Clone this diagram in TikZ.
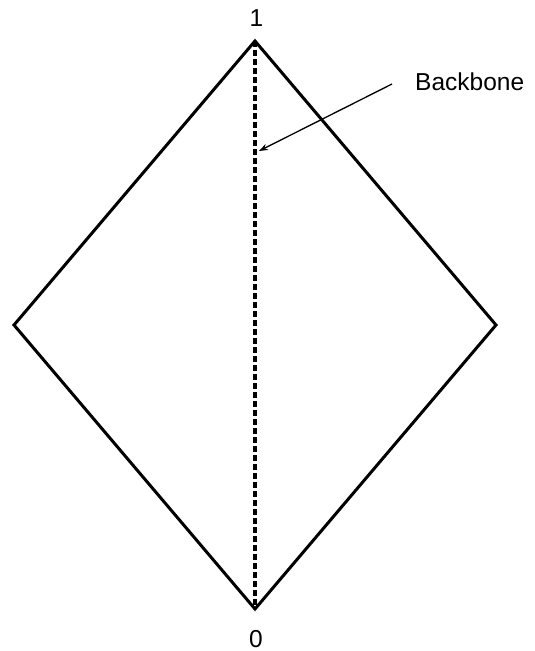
\documentclass[tikz,border=0pt]{standalone}
\usepackage{fontspec}
\setmainfont{Liberation Sans}
\usetikzlibrary{arrows.meta}
\begin{document}
\begin{tikzpicture}[x=1pt,y=-1pt,
  edge/.style={line width=3pt, line join=miter},
  spine/.style={line width=3.2pt, dash pattern=on 5.5pt off 3.5pt},
  pointer/.style={line width=1.3pt, -{Stealth[length=9pt,width=6.5pt]}},
  lbl/.style={font=\fontsize{24.5}{29}\selectfont, inner sep=0pt}]
  \useasboundingbox (0,0) rectangle (535,651);
  \coordinate (top) at (255,41);
  \coordinate (left) at (14,325);
  \coordinate (right) at (496,325);
  \coordinate (bottom) at (255,609);
  \draw[edge] (top) -- (right) -- (bottom) -- (left) -- cycle;
  \draw[spine] (top) -- (bottom);
  \node[lbl, anchor=base] (one) at (256.5,26) {1};
  \node[lbl, anchor=base] (zero) at (256,647) {0};
  \node[lbl, anchor=base west] (bb) at (415,90.7) {Backbone};
  \coordinate (tail) at (392,84);
  \coordinate (tip) at (259,151);
  \draw[pointer] (tail) -- (tip);
\end{tikzpicture}
\end{document}
